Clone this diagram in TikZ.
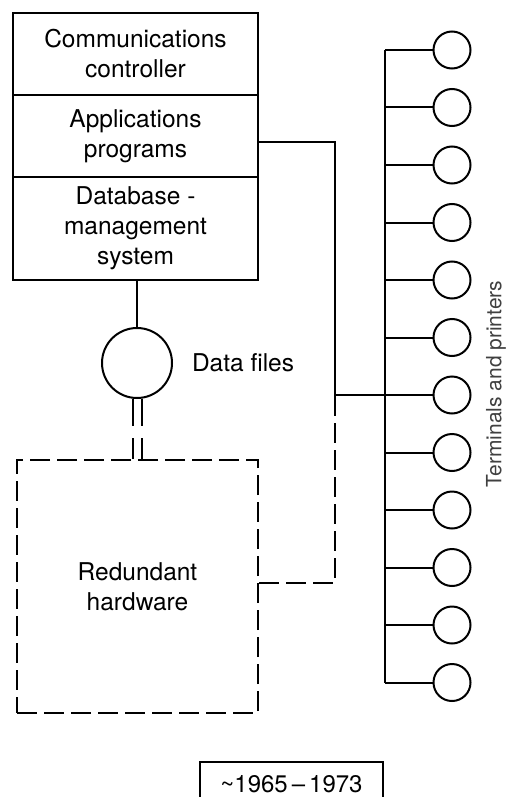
\documentclass[tikz,border=0pt]{standalone}
\usepackage{fontspec}
\setmainfont{TeX Gyre Heros}
\usetikzlibrary{positioning}

\begin{document}
\begin{tikzpicture}[x=1pt,y=-1pt,line width=2pt,
 layer/.style={draw,minimum width=245pt,align=center,inner sep=0pt,font=\fontsize{24.5}{30}\selectfont},
 term/.style={draw,circle,minimum size=37pt,inner sep=0pt},
 brokenline/.style={dash pattern=on 20pt off 7pt}]
\useasboundingbox (0,0) rectangle (507,797);
\clip (0,0) rectangle (507,797);
\node[layer,minimum height=82pt] (comm) at (135.5,54) {Communications\\controller};
\node[layer,minimum height=82pt] (apps) at (135.5,136) {Applications\\programs};
\node[layer,minimum height=103pt] (dbms) at (135.5,228.5) {Database -\\management\\system};
\node[draw,circle,minimum size=70pt,inner sep=0pt] (files) at (137,363) {};
\node[right=18pt of files,inner sep=0pt,font=\fontsize{24.5}{30}\selectfont] (fileslbl) {Data files};
\node[layer,brokenline,minimum width=241pt,minimum height=253pt] (spare) at (137.5,586.5) {Redundant\\hardware};
\draw (files.north |- dbms.south) -- (files.north);
\draw[dash pattern=on 27pt off 12pt on 40pt] ([xshift=-4.5pt]files.south) -- ([xshift=-4.5pt]files.south |- spare.north);
\draw[dash pattern=on 27pt off 12pt on 40pt] ([xshift=4.5pt]files.south) -- ([xshift=4.5pt]files.south |- spare.north);
\foreach \t in {0,...,11} {
 \node[term] (t\t) at (452,50+57.5*\t) {};
 \coordinate (b\t) at (385,50+57.5*\t);
 \draw (b\t) -- (t\t);
}
\draw (b0) -- (b11);
\path (b6) ++(-50,0) coordinate (jn);
\draw ([yshift=-6pt]apps.east) -| (jn) -- (b6);
\draw[brokenline] ([yshift=4pt]spare.east) -| (jn);
\node[rotate=90,font=\fontsize{21}{24}\selectfont,text=black!75] (termlbl) at (496,384) {Terminals and printers};
\node[draw,font=\fontsize{24}{30}\selectfont,minimum width=183pt,minimum height=44pt,inner sep=0pt] (years) at (291.5,784) {\textasciitilde1965\,--\,1973};
\end{tikzpicture}
\end{document}
